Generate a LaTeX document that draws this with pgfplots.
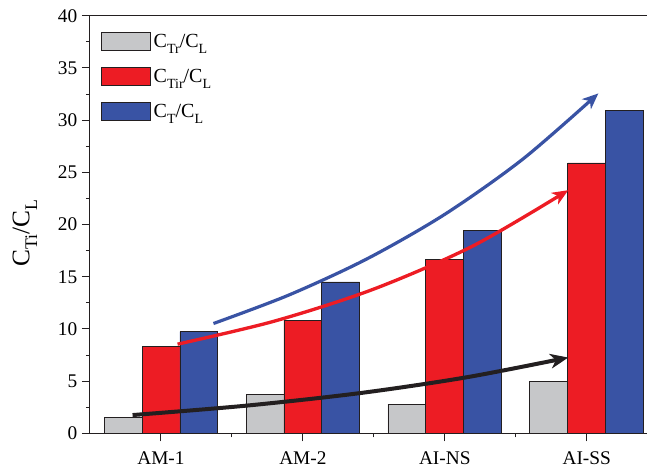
\documentclass[border=0pt]{standalone}
\usepackage{pgfplots}
\pgfplotsset{compat=1.18}
\usepackage{fontspec}
\setmainfont{Liberation Serif}
\usetikzlibrary{arrows.meta}
\definecolor{cgray}{RGB}{198,199,201}
\definecolor{cred}{RGB}{237,28,36}
\definecolor{cblue}{RGB}{57,83,164}
\definecolor{cblack}{RGB}{35,31,32}
\newcommand\lsub[1]{\raisebox{-0.3em}{\fontsize{10.5}{12}\selectfont #1}}
\newcommand\ysub[1]{\raisebox{-0.3em}{\fontsize{13.3}{15}\selectfont #1}}
\pgfplotsset{
  mylegend/.style={legend image code/.code={\draw[##1, line width=0.6pt] (0pt,-6.75pt) rectangle (36.75pt,6.75pt);}},
}
\begin{document}
\begin{tikzpicture}
\useasboundingbox (-67.5pt,-26pt) rectangle (417.75pt,325pt);
\begin{axis}[
  at={(0pt,0pt)}, anchor=south west,
  width=417.75pt, height=313.2pt, scale only axis,
  xmin=-0.5, xmax=3.4246, ymin=0, ymax=40,
  axis y line*=left,
  xtick={0,1,2,3}, xticklabels={AM-1,AM-2,AI-NS,AI-SS},
  minor xtick={0.5,1.5,2.5},
  ytick={0,5,...,40}, minor ytick={2.5,7.5,...,37.5},
  tick align=outside, tick pos=left,
  major tick length=6pt, minor tick length=3pt,
  every tick/.style={cblack, line width=0.75pt},
  axis line style={cblack, line width=0.75pt},
  /pgf/number format/assume math mode=true,
  ticklabel style={font=\fontsize{14.5}{17}\selectfont, text=black},
  xticklabel style={yshift=-4pt},
  ylabel={C\ysub{Ti}/C\ysub{L}},
  ylabel style={font=\fontsize{19}{22}\selectfont, at={(axis description cs:-0.117,0.48)}, anchor=center},
  legend style={at={(rel axis cs:0,1)}, anchor=north west, xshift=8.25pt, yshift=-11.5pt,
    draw=none, fill=none, inner sep=0pt, row sep=10.8pt,
    font=\fontsize{15}{18}\selectfont, legend cell align=left},
]
\addplot[ybar, bar width=0.267, bar shift=-0.267, fill=cgray, draw=cblack, line width=0.6pt, mylegend]
  coordinates {(0,1.5) (1,3.7) (2,2.8) (3,4.95)};
\addlegendentry{C\lsub{Tr}/C\lsub{L}}
\addplot[ybar, bar width=0.267, bar shift=0, fill=cred, draw=cblack, line width=0.6pt, mylegend]
  coordinates {(0,8.3) (1,10.85) (2,16.65) (3,25.9)};
\addlegendentry{C\lsub{Tir}/C\lsub{L}}
\addplot[ybar, bar width=0.267, bar shift=0.267, fill=cblue, draw=cblack, line width=0.6pt, mylegend]
  coordinates {(0,9.75) (1,14.5) (2,19.4) (3,30.9)};
\addlegendentry{C\lsub{T}/C\lsub{L}}
\addplot[cblack, line width=3pt, smooth, forget plot, -{Stealth[length=13.5pt, width=11pt, inset=4pt]}]
  coordinates {(-0.2,1.75) (0.6,2.65) (1.4,3.85) (2.15,5.36) (2.87,7.26)};
\addplot[cred, line width=2.5pt, smooth, forget plot, -{Stealth[length=12pt, width=10pt, inset=3.5pt]}]
  coordinates {(0.117,8.54) (0.8,10.75) (1.5,13.82) (2.2,17.96) (2.87,23.29)};
\addplot[cblue, line width=2.4pt, smooth, forget plot, -{Stealth[length=12pt, width=10pt, inset=3.5pt]}]
  coordinates {(0.37,10.52) (0.9,13.24) (1.45,16.70) (2.0,20.98) (2.55,26.27) (3.082,32.56)};
\end{axis}
\end{tikzpicture}
\end{document}
